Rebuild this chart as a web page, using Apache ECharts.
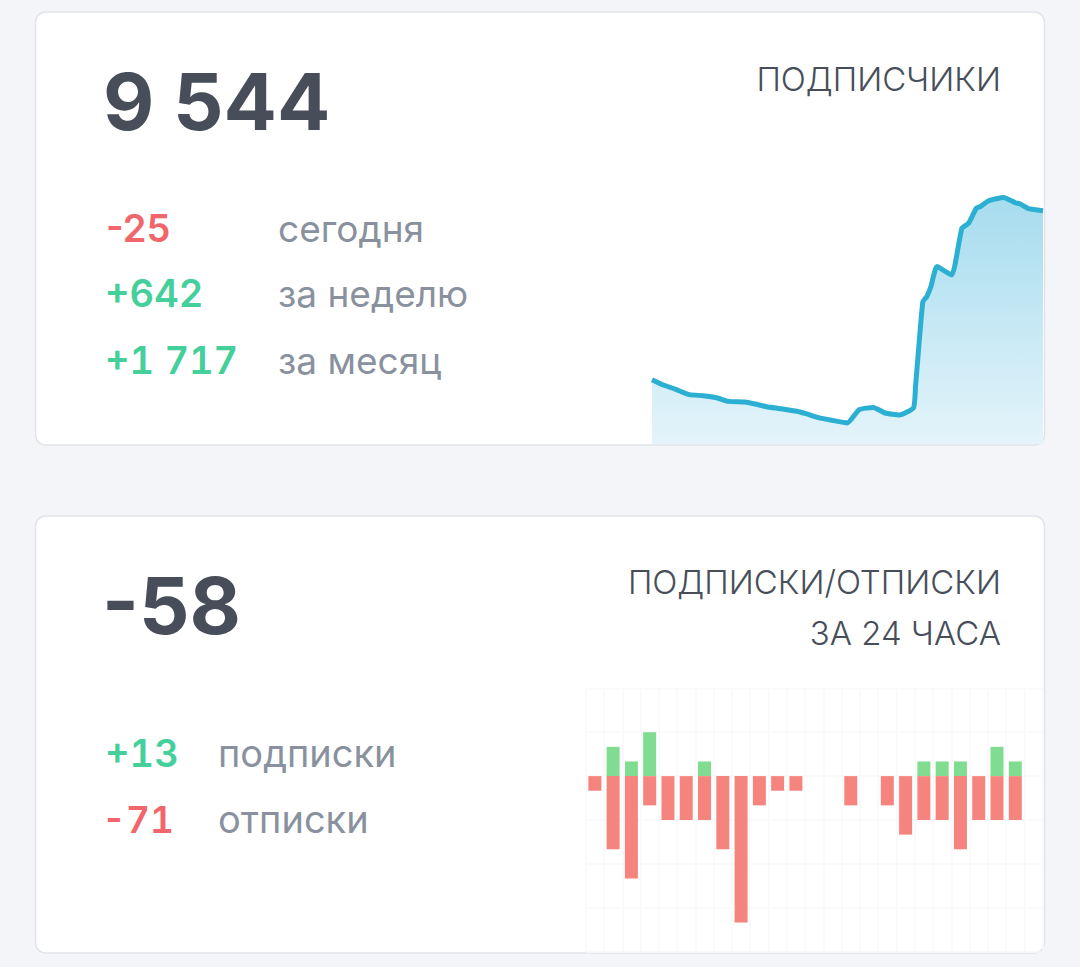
<!DOCTYPE html>
<html><head><meta charset="utf-8">
<style>html,body{margin:0;padding:0;background:#f4f5f9}#c{width:1080px;height:967px}</style>
<script src="https://cdn.jsdelivr.net/npm/echarts@6/dist/echarts.min.js"></script>
</head><body><div id="c"></div>
<script>
const days = [0,.87,1.77,2.87,3.94,4.97,5.86,7.14,7.91,8.8,9.83,11.11,11.88,12.77,13.8,15,15.89,16.99,17.89,18.99,20.07,20.22,20.78,21.09,21.4,21.86,23.01,23.27,23.78,24.29,24.88,25.19,25.83,26.98,27.87,28.26,28.9,30];
const subscribers = [7827,7773,7732,7675,7665,7644,7607,7600,7580,7553,7533,7506,7479,7442,7415,7388,7523,7546,7489,7469,7543,7759,8621,8672,8773,8976,8892,9010,9365,9416,9568,9585,9645,9679,9625,9612,9564,9544];
const hours = ['0','1','2','3','4','5','6','7','8','9','10','11','12','13','14','15','16','17','18','19','20','21','22','23','24'];
const follows = [0,2,1,3,0,0,1,0,0,0,0,0,0,0,0,0,0,0,1,1,1,0,2,1,0];
const unfollows = [-1,-5,-7,-2,-3,-3,-3,-5,-10,-2,-1,-1,0,0,-2,0,-2,-4,-3,-3,-5,-3,-3,-3,0];
const tabularTexts = ['+642','+1 717','+13','-71'];
const FONT = 'Inter, "Noto Sans", sans-serif';
const DARK='#474e59', GREY='#8a919e', RED='#f1666a', GREEN='#44cf9b';
function t(text,x,y,size,color,weight,align){
  return {type:'text',x:x,y:y,style:{text:text,fontFamily:FONT,fontSize:size,fontWeight:weight||400,fill:color,align:align||'left',verticalAlign:'middle'}};
}
function card(y,h){
  return {type:'rect',shape:{x:35.5,y:y,width:1009,height:h,r:10},style:{fill:'#fff',stroke:'#e1e3ea',lineWidth:1.5}};
}
const chart = echarts.init(document.getElementById('c'),null,{renderer:'svg'});
chart.setOption({
  animation:false,
  backgroundColor:'#f4f5f9',
  graphic:{z:0,elements:[
    card(12,433),card(516,437),
    t('9 544',103,101,79,DARK,700),
    t('ПОДПИСЧИКИ',1001,79,33,DARK,300,'right'),
    t('-25',106,228,38,RED,600),t('сегодня',278,228,37,GREY),
    t('+642',105,293,38,GREEN,600),t('за неделю',278,293,37,GREY),
    t('+1 717',105,360,38,GREEN,600),t('за месяц',278,360,37,GREY),
    t('-58',102,605,79,DARK,700),
    t('ПОДПИСКИ/ОТПИСКИ',1001,582,33,DARK,300,'right'),
    t('ЗА 24 ЧАСА',1001,633,33,DARK,300,'right'),
    t('+13',105,753,38,GREEN,600),t('подписки',218,753,38,GREY),
    t('-71',102,819,37,RED,600),t('отписки',218,819,38,GREY)
  ]},
  grid:[
    {left:652,width:391,top:190,height:254,show:false},
    {left:585.7,width:457,top:688.3,height:263.4,show:false}
  ],
  xAxis:[
    {gridIndex:0,type:'value',min:0,max:30,show:false},
    {gridIndex:1,type:'category',data:hours,axisLine:{show:false},axisTick:{show:false},axisLabel:{show:false},
     splitLine:{show:true,interval:0,lineStyle:{color:'#f8f8fb',width:1.5}}}
  ],
  yAxis:[
    {gridIndex:0,type:'value',min:7174,max:9754,show:false},
    {gridIndex:1,type:'value',min:-12,max:6,interval:3,axisLine:{show:false},axisTick:{show:false},axisLabel:{show:false},
     splitLine:{show:true,lineStyle:{color:'#f8f8fb',width:1.5}}}
  ],
  series:[
    {type:'line',xAxisIndex:0,yAxisIndex:0,data:days.map((d,i)=>[d,subscribers[i]]),showSymbol:false,smooth:0.15,
     lineStyle:{color:'#2bafd3',width:5},
     areaStyle:{opacity:1,color:{type:'linear',x:0,y:0,x2:0,y2:1,colorStops:[{offset:0,color:'#a6dcee'},{offset:1,color:'#e4f4fa'}]}}},
    {type:'bar',name:'подписки',xAxisIndex:1,yAxisIndex:1,stack:'a',data:follows,barWidth:13,itemStyle:{color:'#80dc90'}},
    {type:'bar',name:'отписки',xAxisIndex:1,yAxisIndex:1,stack:'a',data:unfollows,barWidth:13,itemStyle:{color:'#f6847e'}}
  ]
});
chart.on('finished',applyTabular);
function applyTabular(){
  document.querySelectorAll('#c text').forEach(function(el){
    if(tabularTexts.indexOf(el.textContent)>=0){el.style.fontVariantNumeric='tabular-nums';}
  });
}
applyTabular();
</script></body></html>
